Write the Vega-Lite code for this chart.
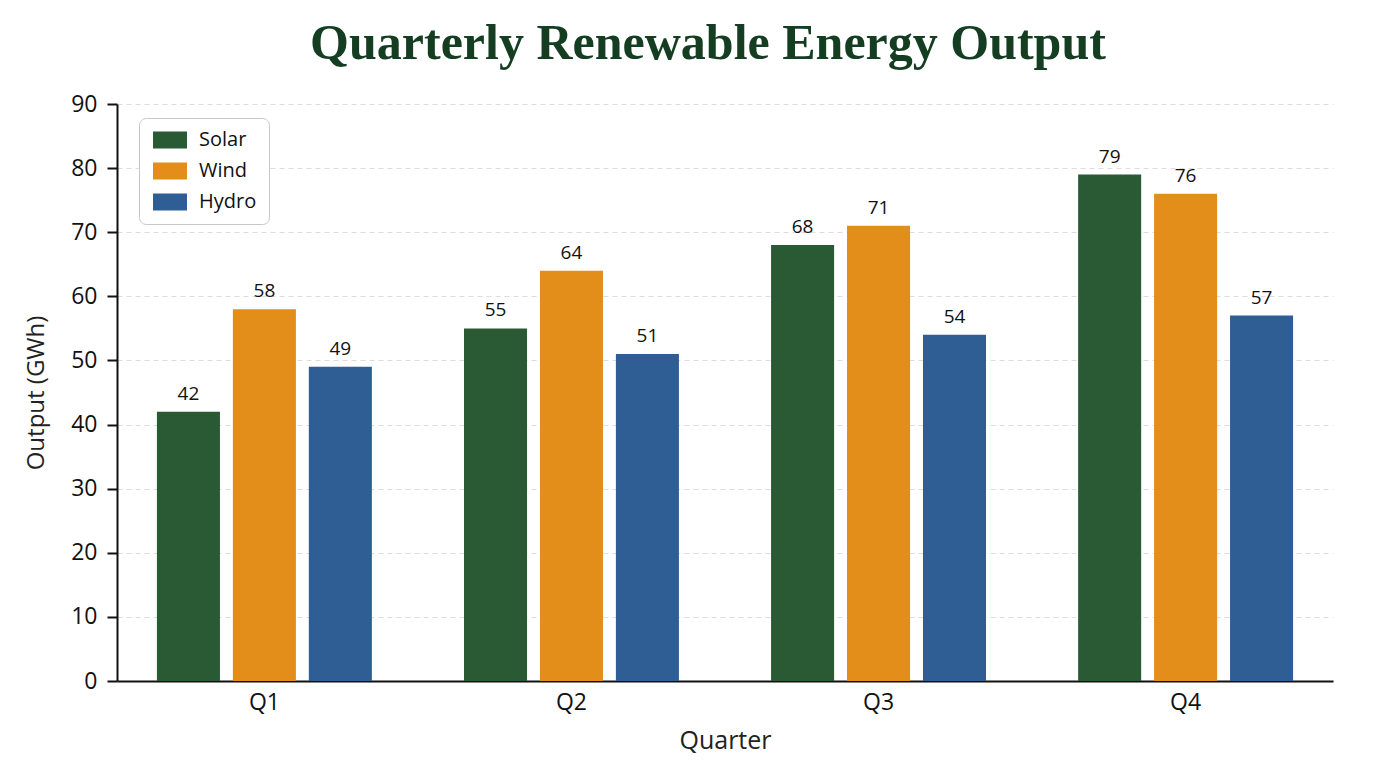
{
  "$schema": "https://vega.github.io/schema/vega-lite/v6.json",
  "autosize": "none",
  "width": 1216,
  "height": 577,
  "padding": {"left": 117, "top": 104, "right": 43, "bottom": 87},
  "background": "white",
  "title": {
    "text": "Quarterly Renewable Energy Output",
    "font": "Liberation Serif",
    "fontSize": 50,
    "fontWeight": "bold",
    "color": "#143d22",
    "anchor": "middle",
    "dx": -17,
    "offset": 24
  },
  "data": {
    "values": [
      {"Quarter": "Q1", "Source": "Solar", "Output": 42},
      {"Quarter": "Q1", "Source": "Wind", "Output": 58},
      {"Quarter": "Q1", "Source": "Hydro", "Output": 49},
      {"Quarter": "Q2", "Source": "Solar", "Output": 55},
      {"Quarter": "Q2", "Source": "Wind", "Output": 64},
      {"Quarter": "Q2", "Source": "Hydro", "Output": 51},
      {"Quarter": "Q3", "Source": "Solar", "Output": 68},
      {"Quarter": "Q3", "Source": "Wind", "Output": 71},
      {"Quarter": "Q3", "Source": "Hydro", "Output": 54},
      {"Quarter": "Q4", "Source": "Solar", "Output": 79},
      {"Quarter": "Q4", "Source": "Wind", "Output": 76},
      {"Quarter": "Q4", "Source": "Hydro", "Output": 57}
    ]
  },
  "encoding": {
    "x": {
      "field": "Quarter",
      "type": "nominal",
      "title": "Quarter",
      "scale": {"paddingInner": 0.3, "paddingOuter": 0.13},
      "axis": {
        "labelAngle": 0,
        "labelFont": "Open Sans",
        "labelFontSize": 23,
        "labelColor": "#111",
        "labelPadding": 10,
        "titleFont": "Open Sans",
        "titleFontSize": 25,
        "titleFontWeight": "normal",
        "titleColor": "#222",
        "titlePadding": 14,
        "domainColor": "#111",
        "domainWidth": 2,
        "ticks": false,
        "grid": false
      }
    },
    "xOffset": {
      "field": "Source",
      "type": "nominal",
      "sort": ["Solar", "Wind", "Hydro"],
      "scale": {"paddingInner": 0.17, "paddingOuter": 0}
    },
    "y": {
      "field": "Output",
      "type": "quantitative",
      "title": "Output (GWh)",
      "scale": {"domain": [0, 90], "nice": false},
      "axis": {
        "values": [0, 10, 20, 30, 40, 50, 60, 70, 80, 90],
        "labelFont": "Open Sans",
        "labelFontSize": 23,
        "labelColor": "#111",
        "labelPadding": 10,
        "titleFont": "Open Sans",
        "titleFontSize": 24,
        "titleFontWeight": "normal",
        "titleColor": "#222",
        "titlePadding": 22,
        "domainColor": "#111",
        "domainWidth": 2,
        "tickColor": "#111",
        "tickWidth": 2,
        "tickSize": 10,
        "grid": true,
        "gridColor": "#dddddd",
        "gridDash": [5, 4],
        "gridWidth": 1
      }
    }
  },
  "layer": [
    {
      "mark": {"type": "bar"},
      "encoding": {
        "color": {
          "field": "Source",
          "type": "nominal",
          "scale": {
            "domain": ["Solar", "Wind", "Hydro"],
            "range": ["#2a5a34", "#e38e1b", "#2f5e95"]
          },
          "legend": {
            "title": null,
            "orient": "none",
            "legendX": 22,
            "legendY": 14,
            "direction": "vertical",
            "padding": 12,
            "rowPadding": 11,
            "cornerRadius": 7,
            "strokeColor": "#c8c8c8",
            "fillColor": "white",
            "labelFont": "Open Sans",
            "labelFontSize": 20,
            "labelColor": "#111",
            "labelOffset": 19,
            "symbolType": "M-2,-1H2V1H-2Z",
            "symbolSize": 289,
            "symbolOffset": 9,
            "symbolStrokeWidth": 0,
            "symbolOpacity": 1
          }
        }
      }
    },
    {
      "mark": {
        "type": "text",
        "baseline": "alphabetic",
        "dy": -12,
        "font": "Open Sans",
        "fontSize": 19,
        "color": "#111"
      },
      "encoding": {
        "text": {"field": "Output", "type": "quantitative"}
      }
    }
  ],
  "config": {
    "view": {"stroke": null}
  }
}
